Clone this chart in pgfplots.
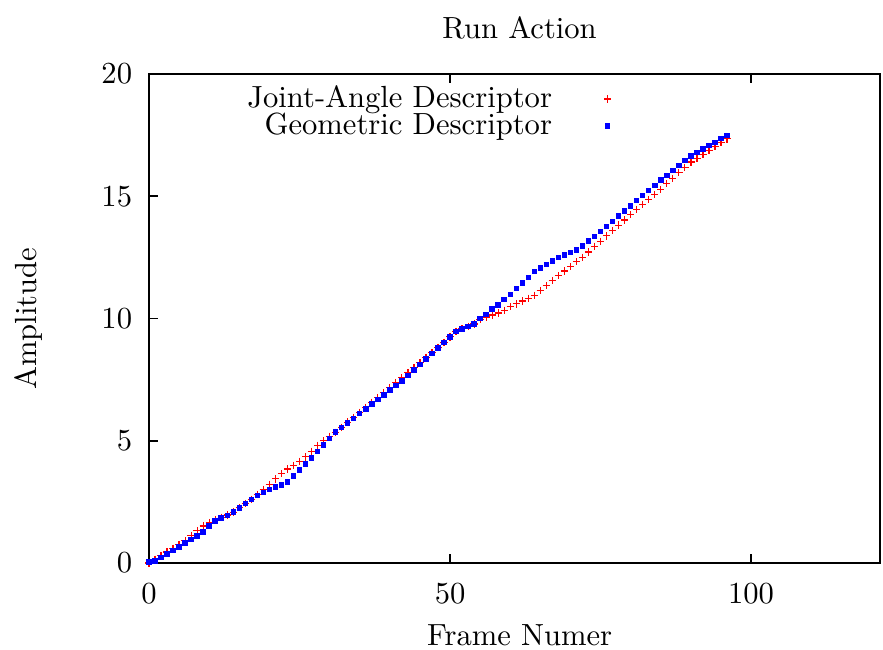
\documentclass[border=0pt]{standalone}
\usepackage{pgfplots}
\usepackage{pgfplotstable}
\pgfplotsset{compat=1.18}

% Cumulative amplitude per frame, joint-angle descriptor
\pgfplotstableread{
x y
0 0.00
1 0.15
2 0.30
3 0.45
4 0.60
5 0.75
6 0.91
7 1.12
8 1.32
9 1.51
10 1.65
11 1.78
12 1.87
13 1.96
14 2.08
15 2.26
16 2.43
17 2.61
18 2.80
19 3.01
20 3.22
21 3.44
22 3.65
23 3.84
24 4.00
25 4.16
26 4.34
27 4.57
28 4.81
29 5.00
30 5.18
31 5.35
32 5.55
33 5.76
34 5.96
35 6.16
36 6.36
37 6.57
38 6.77
39 6.97
40 7.18
41 7.38
42 7.58
43 7.78
44 7.99
45 8.19
46 8.40
47 8.60
48 8.81
49 9.02
50 9.25
51 9.47
52 9.58
53 9.68
54 9.78
55 9.96
56 10.06
57 10.14
58 10.23
59 10.34
60 10.48
61 10.60
62 10.72
63 10.83
64 10.95
65 11.14
66 11.34
67 11.55
68 11.75
69 11.94
70 12.13
71 12.32
72 12.50
73 12.72
74 12.95
75 13.16
76 13.38
77 13.60
78 13.82
79 14.03
80 14.25
81 14.47
82 14.67
83 14.87
84 15.08
85 15.28
86 15.51
87 15.74
88 15.96
89 16.19
90 16.40
91 16.56
92 16.72
93 16.88
94 17.03
95 17.19
96 17.35
}\jointangle

% Cumulative amplitude per frame, geometric descriptor
\pgfplotstableread{
x y
0 0.04
1 0.08
2 0.23
3 0.37
4 0.52
5 0.66
6 0.81
7 0.96
8 1.10
9 1.27
10 1.52
11 1.72
12 1.84
13 1.95
14 2.08
15 2.25
16 2.43
17 2.60
18 2.76
19 2.88
20 3.01
21 3.11
22 3.18
23 3.32
24 3.56
25 3.80
26 4.04
27 4.30
28 4.56
29 4.82
30 5.09
31 5.35
32 5.54
33 5.73
34 5.92
35 6.11
36 6.30
37 6.50
38 6.69
39 6.88
40 7.07
41 7.26
42 7.45
43 7.67
44 7.89
45 8.12
46 8.35
47 8.57
48 8.80
49 9.02
50 9.25
51 9.47
52 9.58
53 9.68
54 9.78
55 10.01
56 10.17
57 10.38
58 10.56
59 10.77
60 10.99
61 11.22
62 11.45
63 11.68
64 11.92
65 12.07
66 12.21
67 12.35
68 12.49
69 12.59
70 12.70
71 12.80
72 12.97
73 13.17
74 13.36
75 13.55
76 13.76
77 13.97
78 14.19
79 14.40
80 14.61
81 14.82
82 15.03
83 15.24
84 15.45
85 15.66
86 15.86
87 16.06
88 16.26
89 16.46
90 16.65
91 16.79
92 16.93
93 17.07
94 17.21
95 17.36
96 17.48
}\geometric

\begin{document}
\begin{tikzpicture}
\begin{axis}[
  name=ax,
  scale only axis,
  width=238.9pt, height=159.8pt,
  xmin=0, xmax=121.4,
  ymin=0, ymax=20,
  xtick={0,50,100},
  ytick={0,5,10,15,20},
  tick align=inside,
  xtick pos=both,
  ytick pos=left,
  major tick length=3pt,
  axis line style={line width=0.6pt},
  every tick/.style={black, line width=0.6pt},
  xticklabel style={yshift=-3.3pt},
  yticklabel style={xshift=-2pt},
  clip=false,
  title={Run Action},
  every axis title/.style={at={(rel axis cs:0.507,1)}, yshift=15pt, anchor=center},
  xlabel={Frame Numer},
  every axis x label/.style={at={(rel axis cs:0.507,0)}, yshift=-23.5pt, anchor=center},
  ylabel={Amplitude},
  every axis y label/.style={at={(rel axis cs:0,0.5)}, xshift=-39.5pt, rotate=90, anchor=center},
  legend plot pos=right,
  legend cell align=right,
  legend image code/.code={\path (-18pt,0pt); \draw[mark repeat=1,mark phase=1,#1] plot coordinates {(0pt,0pt)};},
  legend style={draw=none, fill=none, at={(rel axis cs:0.646,0.99)}, anchor=north east,
                row sep=0.3pt, nodes={inner sep=0pt}},
]
\addplot[only marks, red, mark=+, mark size=1.2pt, line width=0.4pt] table[x=x,y=y] {\jointangle};
\addlegendentry{Joint-Angle Descriptor}
\addplot[only marks, blue, mark=square*, mark size=0.7pt, mark options={fill=blue}] table[x=x,y=y] {\geometric};
\addlegendentry{Geometric Descriptor}
\end{axis}
\pgfresetboundingbox
\path[use as bounding box] ([xshift=-48.7pt,yshift=-28.4pt]ax.south west) rectangle ([xshift=1pt,yshift=24.2pt]ax.north east);
\end{tikzpicture}
\end{document}
